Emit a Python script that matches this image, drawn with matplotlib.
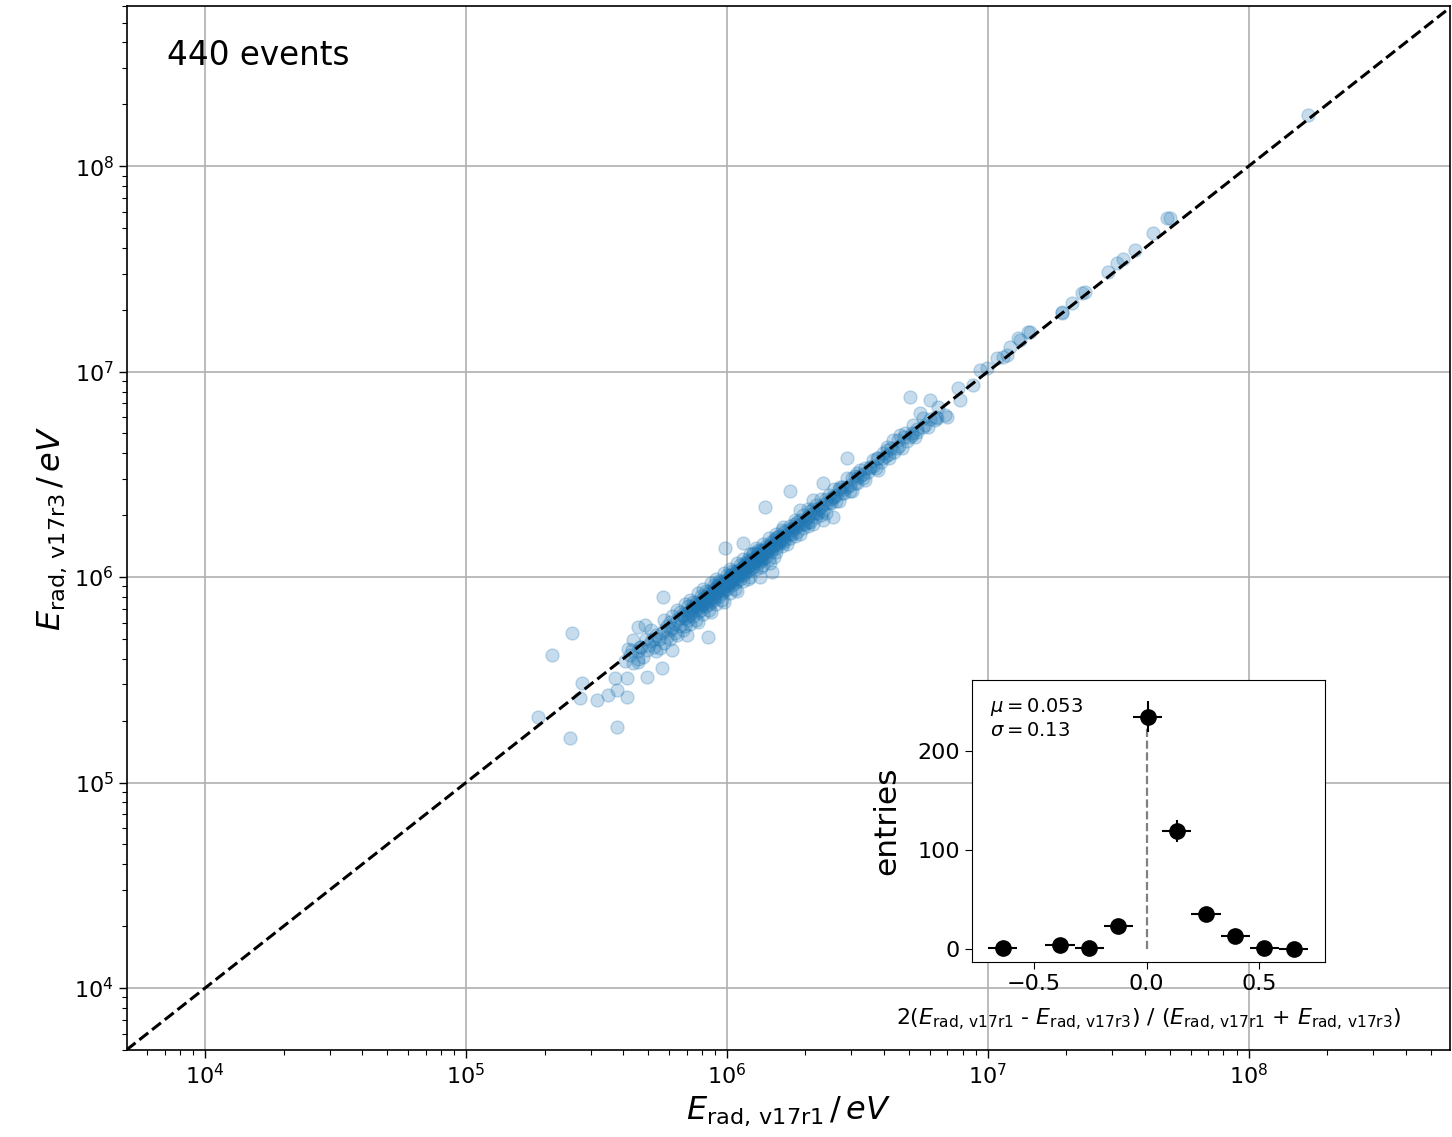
import numpy as np
import matplotlib
matplotlib.use("Agg")
import matplotlib.pyplot as plt

# ---------------------------------------------------------------------------
# Radiation energy per event, reconstructed with two software versions.
# Each entry: (log10 E_rad v17r1 / eV, log10 E_rad v17r3 / eV)
# ---------------------------------------------------------------------------
low_energy_pairs = [
    (5.276, 5.319), (5.330, 5.620), (5.406, 5.728), (5.398, 5.217), (5.444, 5.484),
    (5.437, 5.411), (5.502, 5.401), (5.544, 5.426), (5.579, 5.450), (5.617, 5.416),
    (5.571, 5.509), (5.617, 5.509), (5.579, 5.270), (5.659, 5.757), (5.686, 5.766),
    (5.640, 5.693), (5.667, 5.659), (5.693, 5.645), (5.659, 5.586), (5.751, 5.557),
    (5.693, 5.513), (5.743, 5.655), (5.789, 5.645), (5.755, 5.903), (5.847, 5.718),
    (5.927, 5.708), (5.636, 5.645),
]

core_pairs = [
    (5.61, 5.59), (5.63, 5.62), (5.64, 5.58), (5.62, 5.65),
    (5.66, 5.64), (5.67, 5.66), (5.68, 5.61), (5.69, 5.70), (5.66, 5.60), (5.70, 5.67),
    (5.71, 5.69), (5.72, 5.66), (5.73, 5.72), (5.74, 5.70), (5.71, 5.74), (5.73, 5.64),
    (5.75, 5.73), (5.72, 5.70),
    (5.76, 5.74), (5.77, 5.71), (5.78, 5.78), (5.79, 5.75), (5.76, 5.79), (5.78, 5.70),
    (5.80, 5.77), (5.77, 5.76), (5.79, 5.81), (5.76, 5.68), (5.80, 5.73), (5.78, 5.74),
    (5.81, 5.79), (5.82, 5.76), (5.83, 5.82), (5.84, 5.80), (5.81, 5.84), (5.83, 5.74),
    (5.85, 5.83), (5.82, 5.80), (5.84, 5.87), (5.81, 5.72), (5.85, 5.79), (5.83, 5.81),
    (5.82, 5.83), (5.84, 5.76), (5.85, 5.86),
    (5.86, 5.84), (5.87, 5.81), (5.88, 5.88), (5.89, 5.85), (5.86, 5.89), (5.88, 5.79),
    (5.90, 5.88), (5.87, 5.85), (5.89, 5.92), (5.86, 5.77), (5.90, 5.84), (5.88, 5.86),
    (5.87, 5.88), (5.89, 5.83), (5.90, 5.91), (5.86, 5.82), (5.88, 5.84), (5.89, 5.78),
    (5.87, 5.86), (5.90, 5.86),
    (5.91, 5.89), (5.92, 5.86), (5.93, 5.93), (5.94, 5.90), (5.91, 5.94), (5.93, 5.84),
    (5.95, 5.93), (5.92, 5.90), (5.94, 5.97), (5.91, 5.82), (5.95, 5.89), (5.93, 5.91),
    (5.92, 5.93), (5.94, 5.88), (5.95, 5.96), (5.91, 5.87), (5.93, 5.89), (5.94, 5.83),
    (5.92, 5.91), (5.95, 5.91), (5.91, 5.90), (5.93, 5.87), (5.94, 5.92), (5.92, 5.88),
    (5.95, 5.94),
    (5.96, 5.94), (5.97, 5.91), (5.98, 5.98), (5.99, 5.95), (5.96, 5.99), (5.98, 5.89),
    (6.00, 5.98), (5.97, 5.95), (5.99, 6.02), (5.96, 5.87), (6.00, 5.94), (5.98, 5.96),
    (5.97, 5.98), (5.99, 5.93), (6.00, 6.01), (5.96, 5.92), (5.98, 5.94), (5.99, 5.88),
    (5.97, 5.96), (6.00, 5.96), (5.96, 5.95), (5.98, 5.92), (5.99, 5.97), (5.97, 5.93),
    (6.00, 5.99), (5.98, 5.97), (5.96, 5.93), (5.99, 5.96),
    (6.01, 5.99), (6.02, 5.96), (6.03, 6.03), (6.04, 6.00), (6.01, 6.04), (6.03, 5.94),
    (6.05, 6.03), (6.02, 6.00), (6.04, 6.07), (6.01, 5.92), (6.05, 5.99), (6.03, 6.01),
    (6.02, 6.03), (6.04, 5.98), (6.05, 6.06), (6.01, 5.97), (6.03, 5.99), (6.04, 5.93),
    (6.02, 6.01), (6.05, 6.01), (6.01, 6.00), (6.03, 5.97), (6.04, 6.02), (6.02, 5.98),
    (6.05, 6.04), (6.03, 6.02), (6.01, 5.98), (6.04, 6.01),
    (6.06, 6.04), (6.07, 6.02), (6.08, 6.08), (6.09, 6.06), (6.06, 6.09), (6.08, 5.99),
    (6.10, 6.08), (6.07, 6.05), (6.09, 6.11), (6.06, 5.98), (6.10, 6.05), (6.08, 6.06),
    (6.07, 6.07), (6.09, 6.04), (6.10, 6.11), (6.06, 6.03), (6.08, 6.05), (6.09, 6.00),
    (6.07, 6.06), (6.10, 6.07), (6.06, 6.05), (6.08, 6.03), (6.09, 6.08), (6.07, 6.03),
    (6.10, 6.09), (6.08, 6.07),
    (6.11, 6.09), (6.12, 6.07), (6.13, 6.13), (6.14, 6.11), (6.11, 6.14), (6.13, 6.05),
    (6.15, 6.13), (6.12, 6.10), (6.14, 6.16), (6.11, 6.04), (6.15, 6.10), (6.13, 6.11),
    (6.12, 6.12), (6.14, 6.09), (6.15, 6.15), (6.11, 6.08), (6.13, 6.10), (6.14, 6.06),
    (6.12, 6.11), (6.15, 6.12), (6.11, 6.10), (6.13, 6.08), (6.14, 6.13), (6.12, 6.09),
    (6.16, 6.14), (6.17, 6.12), (6.18, 6.18), (6.19, 6.16), (6.16, 6.19), (6.18, 6.10),
    (6.20, 6.18), (6.17, 6.15), (6.19, 6.21), (6.16, 6.09), (6.20, 6.16), (6.18, 6.16),
    (6.17, 6.17), (6.19, 6.14), (6.20, 6.20), (6.16, 6.13), (6.18, 6.15), (6.19, 6.12),
    (6.17, 6.16), (6.20, 6.17),
    (6.21, 6.19), (6.22, 6.17), (6.23, 6.23), (6.24, 6.21), (6.21, 6.23), (6.23, 6.16),
    (6.25, 6.23), (6.22, 6.20), (6.24, 6.25), (6.21, 6.15), (6.25, 6.21), (6.23, 6.21),
    (6.22, 6.22), (6.24, 6.19), (6.25, 6.24), (6.21, 6.18),
    (6.26, 6.24), (6.27, 6.22), (6.28, 6.28), (6.29, 6.26), (6.26, 6.28), (6.28, 6.21),
    (6.30, 6.28), (6.27, 6.25), (6.29, 6.30), (6.26, 6.20), (6.30, 6.26), (6.28, 6.26),
    (6.27, 6.27), (6.29, 6.24),
    (6.31, 6.29), (6.32, 6.27), (6.33, 6.33), (6.34, 6.31), (6.31, 6.33), (6.33, 6.26),
    (6.35, 6.33), (6.32, 6.30), (6.34, 6.35), (6.31, 6.25), (6.35, 6.31), (6.33, 6.31),
    (6.32, 6.32), (6.34, 6.29),
    (6.36, 6.34), (6.37, 6.32), (6.38, 6.38), (6.39, 6.36), (6.36, 6.38), (6.38, 6.31),
    (6.40, 6.38), (6.37, 6.35), (6.39, 6.40), (6.36, 6.30), (6.40, 6.36), (6.38, 6.36),
    (6.41, 6.39), (6.42, 6.37), (6.43, 6.43), (6.44, 6.41), (6.41, 6.43), (6.43, 6.37),
    (6.45, 6.43), (6.42, 6.40), (6.44, 6.44), (6.45, 6.41),
    (6.46, 6.44), (6.47, 6.42), (6.48, 6.48), (6.49, 6.46), (6.46, 6.48), (6.48, 6.42),
    (6.50, 6.48), (6.47, 6.45), (6.49, 6.49), (6.50, 6.46),
    (6.51, 6.49), (6.52, 6.48), (6.53, 6.53), (6.54, 6.51), (6.51, 6.52), (6.53, 6.47),
    (6.55, 6.53), (6.52, 6.50),
    (6.56, 6.54), (6.57, 6.53), (6.58, 6.58), (6.59, 6.56), (6.56, 6.57), (6.58, 6.52),
    (6.60, 6.58),
    (6.61, 6.59), (6.62, 6.58), (6.63, 6.63), (6.64, 6.61), (6.62, 6.60), (6.65, 6.63),
    (6.66, 6.64), (6.67, 6.63), (6.68, 6.68), (6.69, 6.66), (6.70, 6.68),
    (6.71, 6.69), (6.72, 6.68), (6.73, 6.72), (6.75, 6.73),
    (6.76, 6.74), (6.77, 6.73), (6.78, 6.77), (6.80, 6.78),
    (5.93, 5.92), (5.95, 5.90), (5.97, 5.97), (5.99, 5.94), (6.01, 6.01), (6.02, 5.99),
    (6.04, 6.03), (6.06, 6.01), (6.08, 6.09), (6.10, 6.06), (6.12, 6.13), (6.13, 6.09),
    (6.15, 6.14), (6.17, 6.13), (5.88, 5.87), (5.90, 5.87), (5.85, 5.81), (6.19, 6.19),
    (6.22, 6.18), (6.26, 6.26), (6.31, 6.27),
]

mid_energy_pairs = [
    (6.701, 6.876), (6.778, 6.861), (6.808, 6.827), (6.835, 6.788), (6.805, 6.774),
    (6.885, 6.920), (6.893, 6.861), (6.943, 6.934), (6.969, 7.007), (6.996, 7.017),
    (7.034, 7.066), (7.073, 7.080), (7.084, 7.119), (7.123, 7.153), (7.153, 7.192),
    (7.284, 7.285), (7.322, 7.333), (6.739, 6.798), (6.751, 6.774), (6.797, 6.764),
    (6.843, 6.779), (6.713, 6.740), (6.709, 6.701), (6.663, 6.691), (6.636, 6.667),
    (6.613, 6.633), (6.598, 6.603), (6.728, 6.706), (6.682, 6.701), (6.655, 6.667),
    (6.613, 6.618), (6.575, 6.579), (6.460, 6.579), (6.548, 6.535), (6.498, 6.506),
    (6.368, 6.457), (6.433, 6.438), (6.406, 6.389), (6.241, 6.418), (6.146, 6.341),
    (6.330, 6.375), (6.280, 6.326), (6.368, 6.277), (6.406, 6.292), (6.215, 6.243),
    (6.192, 6.195), (5.992, 6.141), (6.061, 6.165), (6.100, 6.117), (6.165, 6.068),
    (6.126, 6.000), (6.172, 6.024),
]

high_energy_pairs = [
    (8.226, 8.248), (7.697, 7.747), (7.686, 7.747), (7.632, 7.674), (7.563, 7.591),
    (7.517, 7.547), (7.494, 7.528), (7.460, 7.484), (7.372, 7.387), (7.360, 7.382),
    (7.284, 7.290), (7.161, 7.192), (7.115, 7.163), (7.057, 7.071),
]

# Relative difference histogram (inset)
bin_centers = [-0.638, -0.384, -0.255, -0.126, 0.004, 0.134, 0.263, 0.392, 0.522, 0.651]
bin_counts = [1, 4, 1, 23, 235, 119, 35, 13, 1, 0]
bin_half_width = 0.0645
mean_rel_diff = 0.053
std_rel_diff = 0.13
n_events = 440

# ---------------------------------------------------------------------------
all_pairs = np.array(low_energy_pairs + core_pairs + mid_energy_pairs + high_energy_pairs)
e_v17r1 = 10.0 ** all_pairs[:, 0]
e_v17r3 = 10.0 ** all_pairs[:, 1]

fig = plt.figure(figsize=(14.52, 11.37), dpi=100)
ax = fig.add_axes([0.0875, 0.0765, 0.911, 0.918])

ax.set_xscale("log")
ax.set_yscale("log")
lo, hi = 5.0e3, 6.0e8
ax.set_xlim(5.02e3, 5.9e8)
ax.set_ylim(4.99e3, 6.0e8)
ax.grid(True, which="major", color="#b0b0b0", linewidth=1.2)
ax.set_axisbelow(True)

ax.scatter(e_v17r1, e_v17r3, s=88, color="C0", alpha=0.25, zorder=2)
ax.plot([lo, hi], [lo, hi], linestyle="--", color="black", linewidth=2.2, zorder=3)

ax.tick_params(axis="both", which="major", labelsize=16, length=6, width=1.0)
ax.tick_params(axis="both", which="minor", length=3.5, width=0.8)
ax.set_xlabel(r"$E_{\mathrm{rad,\,v17r1}}\,/\,eV$", fontsize=23)
ax.set_ylabel(r"$E_{\mathrm{rad,\,v17r3}}\,/\,eV$", fontsize=23)
for sp in ax.spines.values():
    sp.set_linewidth(1.2)

ax.text(0.030, 0.953, f"{n_events} events", transform=ax.transAxes,
        fontsize=23.5, va="center", ha="left")

# Inset: relative difference distribution
axin = fig.add_axes([0.6694, 0.1539, 0.2431, 0.248])
counts = np.array(bin_counts, dtype=float)
axin.vlines(0.0, 0.0, counts.max(), colors="gray", linestyles="--", linewidth=1.6, zorder=1)
axin.errorbar(bin_centers, counts, xerr=bin_half_width, yerr=np.sqrt(counts),
              fmt="o", color="black", markersize=11, elinewidth=1.5, capsize=0, zorder=3)
axin.set_xlim(-0.774, 0.790)
axin.set_ylim(-13.5, 272)
axin.set_xticks([-0.5, 0.0, 0.5])
axin.set_yticks([0, 100, 200])
axin.tick_params(axis="both", labelsize=16, length=5)
axin.set_ylabel("entries", fontsize=22.5, labelpad=12)
axin.set_xlabel(r"2($E_{\mathrm{rad,\,v17r1}}$ - $E_{\mathrm{rad,\,v17r3}}$) / "
                r"($E_{\mathrm{rad,\,v17r1}}$ + $E_{\mathrm{rad,\,v17r3}}$)",
                fontsize=15.8, labelpad=9)
axin.text(0.05, 0.945, rf"$\mu = {mean_rel_diff}$" + "\n" + rf"$\sigma = {std_rel_diff}$",
          transform=axin.transAxes, va="top", ha="left", fontsize=14)

fig.savefig("out.png", dpi=100)
